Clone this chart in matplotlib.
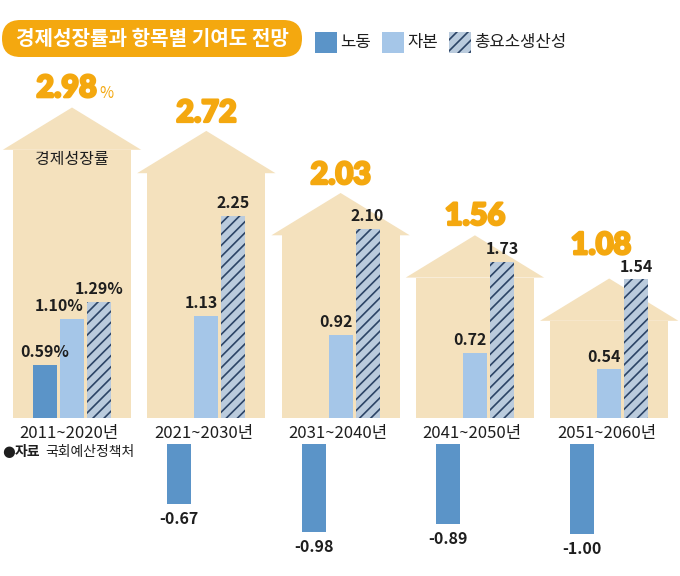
import matplotlib
matplotlib.use('Agg')
import matplotlib.pyplot as plt
from matplotlib.patches import Polygon, Rectangle, FancyBboxPatch
import matplotlib.patheffects as pe

plt.rcParams['font.family'] = ['Noto Sans CJK KR', 'DejaVu Sans']
plt.rcParams['hatch.linewidth'] = 1.2
plt.rcParams['hatch.color'] = '#2C4466'

# ---- data ----
periods = ['2011~2020년', '2021~2030년', '2031~2040년', '2041~2050년', '2051~2060년']
gdp = [2.98, 2.72, 2.03, 1.56, 1.08]
labor = [0.59, -0.67, -0.98, -0.89, -1.00]
capital = [1.10, 1.13, 0.92, 0.72, 0.54]
tfp = [1.29, 2.25, 2.10, 1.73, 1.54]
series_names = ['노동', '자본', '총요소생산성']
title = '경제성장률과 항목별 기여도 전망'
gdp_name = '경제성장률'
source_bold = '자료'
source_text = '국회예산정책처'

# ---- styles ----
C_HOUSE = '#F4E1BD'
C_ORANGE = '#F4A80F'
C_LABOR = '#5B94C8'
C_CAP = '#A5C6E8'
C_TFP = '#BACBDD'
C_HATCH = '#2C4466'
C_TEXT = '#1E1E1E'

W, H = 680, 576
fig = plt.figure(figsize=(W / 100, H / 100), dpi=100)
fig.patch.set_facecolor('white')

ax = fig.add_axes([0, 0, 1, 1])
PX_X = 134.3   # px per group
PX_Y = 90.0    # px per unit
X0 = 72        # px of first group
BASE = 418     # baseline px from top
ax.set_xlim(-X0 / PX_X, (W - X0) / PX_X)
ax.set_ylim(-(H - BASE) / PX_Y, BASE / PX_Y)
ax.axis('off')

bw = 24 / PX_X
off = 27 / PX_X
body_half = 0.44
eave_half = 0.515
roof_h = 0.47
neg_gap = 26 / PX_Y
gdp_lift = [7.5, 6.5, 6.5, 7.5, 17.5]   # label offsets (pt) above roof peak

# houses
for i, g in enumerate(gdp):
    ax.add_patch(Rectangle((i - body_half, 0), 2 * body_half, g,
                           facecolor=C_HOUSE, lw=0, zorder=0))
    ax.add_patch(Polygon([(i - eave_half, g), (i, g + roof_h), (i + eave_half, g)],
                         closed=True, facecolor=C_HOUSE, lw=0, zorder=0))

# bars
for i in range(len(periods)):
    lv = labor[i]
    bottom = -neg_gap if lv < 0 else 0
    ax.bar(i - off, lv, bw, bottom=bottom, color=C_LABOR, lw=0, zorder=2)
    ax.bar(i, capital[i], bw, color=C_CAP, lw=0, zorder=2)
    ax.bar(i + off, tfp[i], bw, color=C_TFP, edgecolor=C_HATCH, lw=0,
           hatch='///', zorder=2)

lab_kw = dict(fontsize=11.5, fontweight='bold', color=C_TEXT,
              textcoords='offset points', zorder=4)
for i in range(len(periods)):
    suf = '%' if i == 0 else ''
    lv = labor[i]
    if lv >= 0:
        ax.annotate(f'{lv:.2f}{suf}', (i - off, lv), xytext=(0, 3.5),
                    ha='center', va='bottom', **lab_kw)
    else:
        ax.annotate(f'{lv:.2f}', (i - off, lv - neg_gap), xytext=(0, -5),
                    ha='center', va='top', **lab_kw)
    ax.annotate(f'{capital[i]:.2f}{suf}', (i + bw / 2, capital[i]), xytext=(0, 3.5),
                ha='right', va='bottom', **lab_kw)
    ax.annotate(f'{tfp[i]:.2f}{suf}', (i + off, tfp[i]), xytext=(0, 3.5),
                ha='center', va='bottom', **lab_kw)
    # category
    ax.annotate(periods[i], (i, 0), xytext=(-2, -11), textcoords='offset points',
                ha='center', va='center', fontsize=12, color=C_TEXT, zorder=4)
    # gdp label
    gx = -4 if i == 0 else (-6 if i == 4 else 0)
    t = ax.annotate(f'{gdp[i]:.2f}', (i, gdp[i] + roof_h), xytext=(gx, gdp_lift[i]),
                    textcoords='offset points', ha='center', va='baseline',
                    fontsize=22, fontfamily=['Lato', 'DejaVu Sans'], fontweight='black',
                    color=C_ORANGE, zorder=4,
                    path_effects=[pe.withStroke(linewidth=1.8, foreground=C_ORANGE)])
    if i == 0:
        ax.annotate('%', xy=(1, 0), xycoords=t, xytext=(2, 0), textcoords='offset points',
                    ha='left', va='bottom', fontsize=11, color=C_ORANGE, zorder=4)

ax.annotate(gdp_name, (0, gdp[0]), xytext=(0, -7), textcoords='offset points',
            ha='center', va='center', fontsize=11.5, color=C_TEXT, zorder=4)

# ---- overlay in pixel coords ----
ov = fig.add_axes([0, 0, 1, 1], zorder=5)
ov.set_xlim(0, W)
ov.set_ylim(H, 0)
ov.axis('off')
ov.patch.set_alpha(0)

ov.add_patch(FancyBboxPatch((2, 20), 300, 37, boxstyle='round,pad=0,rounding_size=18.5',
                            facecolor=C_ORANGE, lw=0))
ov.text(152, 38.5, title, ha='center', va='center', fontsize=14.5,
        fontweight='bold', color='white')

leg = [(315, C_LABOR, None, C_LABOR), (382, C_CAP, None, C_CAP),
       (449, C_TFP, '///', C_HATCH)]
for (x, fc, hatch, ec), name in zip(leg, series_names):
    ov.add_patch(Rectangle((x, 32), 22, 21, facecolor=fc, edgecolor=ec, lw=0, hatch=hatch))
    ov.text(x + 25, 43, name, ha='left', va='center', fontsize=12, color=C_TEXT)

ov.text(2, 452, '●', ha='left', va='center', fontsize=10.5, color=C_TEXT,
        fontfamily=['DejaVu Sans'])
ov.text(15, 452, source_bold, ha='left', va='center', fontsize=10, fontweight='bold', color=C_TEXT)
ov.text(45, 452, source_text, ha='left', va='center', fontsize=10, color=C_TEXT)

fig.savefig('out.png', dpi=100, facecolor='white')
